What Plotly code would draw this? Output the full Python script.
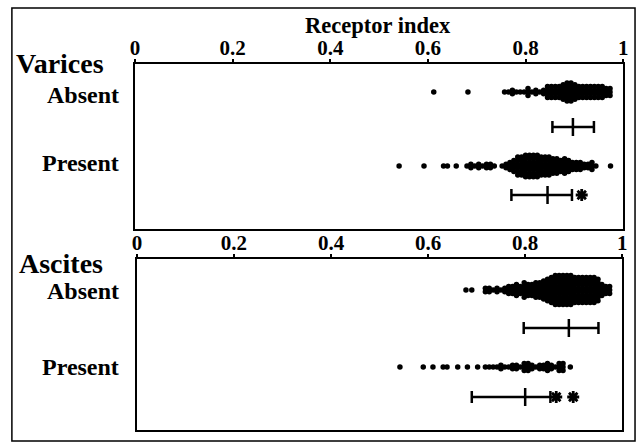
import plotly.graph_objects as go

# ---------------- data ----------------
tick_vals = [0, 0.2, 0.4, 0.6, 0.8, 1.0]
tick_labels = ["0", "0.2", "0.4", "0.6", "0.8", "1"]

# Varices absent: receptor index value bins and number of patients in each
var_abs_x = [0.612, 0.682, 0.757, 0.765, 0.773, 0.781, 0.789, 0.797, 0.805, 0.813, 0.821,
             0.829, 0.837, 0.845, 0.853, 0.861, 0.869, 0.877, 0.885, 0.893, 0.901, 0.909,
             0.917, 0.925, 0.933, 0.941, 0.949, 0.957, 0.965, 0.973]
var_abs_n = [1, 1, 1, 1, 2, 1, 1, 1, 3, 1, 2,
             1, 2, 4, 4, 4, 4, 5, 6, 6, 5, 4,
             4, 4, 4, 4, 4, 4, 3, 3]

var_pre_x = [0.541, 0.592, 0.632, 0.640, 0.658, 0.680, 0.688, 0.696, 0.704, 0.712, 0.720,
             0.728, 0.736, 0.752, 0.760, 0.768, 0.776, 0.784, 0.792, 0.800, 0.808, 0.816,
             0.824, 0.832, 0.840, 0.848, 0.856, 0.864, 0.872, 0.880, 0.888, 0.896, 0.904,
             0.912, 0.920, 0.928, 0.936, 0.944, 0.974]
var_pre_n = [1, 1, 1, 1, 1, 1, 2, 1, 2, 1, 2,
             2, 1, 1, 2, 3, 4, 6, 6, 7, 7, 7,
             7, 6, 6, 6, 5, 5, 4, 5, 4, 3, 3,
             3, 2, 2, 3, 1, 1]

asc_abs_x = [0.678, 0.690, 0.718, 0.726, 0.734, 0.742, 0.750, 0.758, 0.766, 0.774, 0.782,
             0.790, 0.798, 0.806, 0.814, 0.822, 0.830, 0.838, 0.846, 0.854, 0.862, 0.870,
             0.878, 0.886, 0.894, 0.902, 0.910, 0.918, 0.926, 0.934, 0.942, 0.950, 0.958,
             0.966, 0.974]
asc_abs_n = [1, 1, 2, 2, 1, 2, 1, 2, 3, 3, 4,
             3, 5, 4, 4, 5, 5, 6, 7, 8, 9, 9,
             9, 9, 9, 8, 8, 8, 8, 8, 8, 7, 4,
             3, 3]

asc_pre_x = [0.542, 0.590, 0.610, 0.631, 0.639, 0.661, 0.681, 0.702, 0.718, 0.726, 0.734,
             0.742, 0.750, 0.758, 0.766, 0.774, 0.782, 0.790, 0.798, 0.806, 0.814, 0.822,
             0.830, 0.838, 0.846, 0.854, 0.862, 0.870, 0.878, 0.893]
asc_pre_n = [1, 1, 1, 1, 1, 1, 1, 1, 1, 1, 1,
             1, 2, 1, 1, 2, 2, 1, 3, 3, 2, 1,
             2, 2, 3, 2, 1, 3, 3, 1]

# summary bars: (low, centre, high)
var_abs_stats = (0.855, 0.897, 0.940)
var_pre_stats = (0.771, 0.845, 0.895)
asc_abs_stats = (0.797, 0.890, 0.951)
asc_pre_stats = (0.690, 0.800, 0.852)

# significance marks
var_stars_x = [0.915]
asc_stars_x = [0.864, 0.899]

group_titles = ["Varices", "Ascites"]
row_labels = ["Absent", "Present"]
axis_title = "Receptor index"

# ---------------- layout constants ----------------
W, H = 642, 443
TOP_PANEL = dict(x0=132, x1=628, y0=64, y1=229)
BOT_PANEL = dict(x0=134, x1=627, y0=259, y1=430)
top_rows = (28, 63, 102, 131)   # dots, bar, dots, bar (px from panel top)
bot_rows = (31, 69, 108, 138)
DY = 3.6
FONT = "Liberation Serif"


def swarm(xs, ns, yc):
    X, Y = [], []
    for x, n in zip(xs, ns):
        for k in range(n):
            X.append(x)
            Y.append(yc + (k - (n - 1) / 2) * DY)
    return X, Y


def err_bar(stats, yc, h_end=6, h_mid=9):
    lo, mid, hi = stats
    X = [lo, hi, None, lo, lo, None, hi, hi, None, mid, mid]
    Y = [yc, yc, None, yc - h_end, yc + h_end, None, yc - h_end, yc + h_end, None,
         yc - h_mid, yc + h_mid]
    return X, Y


fig = go.Figure()


def add_panel(xa, ya, rows, abs_x, abs_n, pre_x, pre_n, abs_stats, pre_stats, stars):
    for (xs, ns, yc) in ((abs_x, abs_n, rows[0]), (pre_x, pre_n, rows[2])):
        X, Y = swarm(xs, ns, yc)
        fig.add_trace(go.Scatter(x=X, y=Y, mode="markers", xaxis=xa, yaxis=ya,
                                 marker=dict(size=5.5, color="black", line=dict(width=0)),
                                 showlegend=False, hoverinfo="x"))
    for stats, yc in ((abs_stats, rows[1]), (pre_stats, rows[3])):
        X, Y = err_bar(stats, yc)
        fig.add_trace(go.Scatter(x=X, y=Y, mode="lines", xaxis=xa, yaxis=ya,
                                 line=dict(color="black", width=2.5),
                                 showlegend=False, hoverinfo="skip"))
    fig.add_trace(go.Scatter(x=stars, y=[rows[3]] * len(stars), mode="markers",
                             xaxis=xa, yaxis=ya,
                             marker=dict(symbol="asterisk-open", size=10, color="black",
                                         line=dict(width=2.8, color="black")),
                             showlegend=False, hoverinfo="skip"))


add_panel("x", "y", top_rows, var_abs_x, var_abs_n, var_pre_x, var_pre_n,
          var_abs_stats, var_pre_stats, var_stars_x)
add_panel("x2", "y2", bot_rows, asc_abs_x, asc_abs_n, asc_pre_x, asc_pre_n,
          asc_abs_stats, asc_pre_stats, asc_stars_x)


def xaxis_cfg(p, anchor):
    return dict(domain=[p["x0"] / W, p["x1"] / W], range=[0, 1], side="top", anchor=anchor,
                showline=True, mirror=True, linewidth=2, linecolor="black",
                ticks="outside", ticklen=3, tickwidth=1.5, tickcolor="black",
                tickvals=tick_vals, ticktext=tick_labels,
                tickfont=dict(family=FONT, size=21, color="black", weight="bold"),
                ticklabelstandoff=-4,
                showgrid=False, zeroline=False, fixedrange=True)


def yaxis_cfg(p, anchor):
    h = p["y1"] - p["y0"]
    return dict(domain=[1 - p["y1"] / H, 1 - p["y0"] / H], range=[h, 0], anchor=anchor,
                showline=True, mirror=True, linewidth=2, linecolor="black",
                showticklabels=False, ticks="", showgrid=False, zeroline=False,
                fixedrange=True)


annotations = [
    dict(text=axis_title, x=379 / W, y=1 - 25 / H, xanchor="center", yanchor="middle",
         font=dict(family=FONT, size=22.5, color="black", weight="bold")),
    dict(text=group_titles[0], x=9 / W, y=1 - 64 / H, xanchor="left", yanchor="middle",
         font=dict(family=FONT, size=28, color="black", weight="bold")),
    dict(text=group_titles[1], x=12 / W, y=1 - 263 / H, xanchor="left", yanchor="middle",
         font=dict(family=FONT, size=28, color="black", weight="bold")),
]
for lbl, ypx in ((row_labels[0], 95), (row_labels[1], 163),
                 (row_labels[0], 291), (row_labels[1], 367)):
    annotations.append(dict(text=lbl, x=118 / W, y=1 - ypx / H, xanchor="right",
                            yanchor="middle",
                            font=dict(family=FONT, size=24, color="black", weight="bold")))
for a in annotations:
    a.update(xref="paper", yref="paper", showarrow=False)

fig.update_layout(
    width=W, height=H, margin=dict(l=0, r=0, t=0, b=0),
    paper_bgcolor="white", plot_bgcolor="white",
    xaxis=xaxis_cfg(TOP_PANEL, "y"), yaxis=yaxis_cfg(TOP_PANEL, "x"),
    xaxis2=xaxis_cfg(BOT_PANEL, "y2"), yaxis2=yaxis_cfg(BOT_PANEL, "x2"),
    annotations=annotations,
    shapes=[dict(type="rect", xref="paper", yref="paper",
                 x0=7 / W, x1=640 / W, y0=1 - 441 / H, y1=1 - 8 / H,
                 line=dict(color="black", width=1.5))],
)

fig.write_html("out.html")
